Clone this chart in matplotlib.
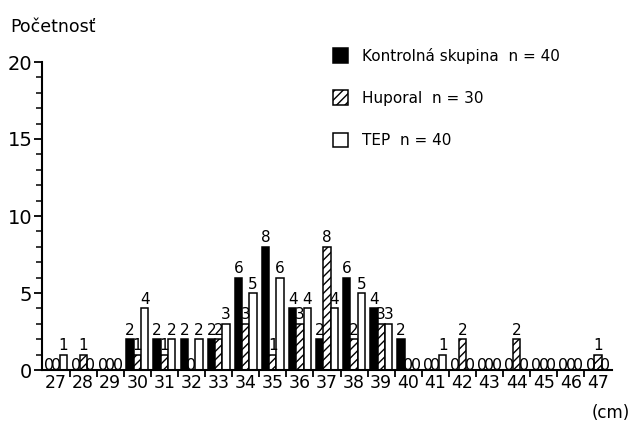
import matplotlib
matplotlib.use("Agg")
import matplotlib.pyplot as plt
import numpy as np
from matplotlib.patches import Patch

plt.rcParams['font.family'] = ['DejaVu Sans']
plt.rcParams['hatch.linewidth'] = 1.0

categories = [str(c) for c in range(27, 48)]
kontrolna = [0, 0, 0, 2, 2, 2, 2, 6, 8, 4, 2, 6, 4, 2, 0, 0, 0, 0, 0, 0, 0]
huporal   = [0, 1, 0, 1, 1, 0, 2, 3, 1, 3, 8, 2, 3, 0, 0, 2, 0, 2, 0, 0, 1]
tep       = [1, 0, 0, 4, 2, 2, 3, 5, 6, 4, 4, 5, 3, 0, 1, 0, 0, 0, 0, 0, 0]
series_labels = ["Kontrolná skupina  n = 40", "Huporal  n = 30", "TEP  n = 40"]
y_ticks = [0, 5, 10, 15, 20]

W, H = 632, 423
fig = plt.figure(figsize=(W / 100, H / 100), dpi=100)
ax = fig.add_axes([42 / W, (H - 370) / H, (612 - 42) / W, (370 - 62) / H])

x = np.arange(len(categories))
bw = 0.27
styles = [
    dict(color='black', edgecolor='black', hatch=None),
    dict(color='white', edgecolor='black', hatch='////'),
    dict(color='white', edgecolor='black', hatch=None),
]
data = [kontrolna, huporal, tep]
for k, (vals, st) in enumerate(zip(data, styles)):
    pos = x + (k - 1) * bw
    vals = np.array(vals)
    for p, v in zip(pos, vals):
        if v > 0:
            ax.bar(p, v, width=bw, facecolor=st['color'], edgecolor=st['edgecolor'],
                   hatch=st['hatch'], linewidth=1.1, zorder=2)
            ax.annotate(str(v), (p, v), xytext=(0, 1), textcoords='offset points',
                        ha='center', va='bottom', fontsize=11, zorder=5)
        else:
            ax.text(p, 0.02, "0", ha='center', va='baseline', fontsize=11.5, zorder=3)

ax.set_xlim(-0.52, len(categories) - 0.48)
ax.set_ylim(0, 20)

for s in ['top', 'right']:
    ax.spines[s].set_visible(False)
for s in ['left', 'bottom']:
    ax.spines[s].set_linewidth(1.5)

ax.set_yticks(y_ticks)
ax.set_yticklabels([str(t) for t in y_ticks], fontsize=14)
ax.set_yticks(np.arange(0, 21, 1), minor=True)
ax.tick_params(axis='y', which='major', length=6, width=1.3, direction='out', pad=1)
ax.tick_params(axis='y', which='minor', length=4, width=1.1, direction='out')

ax.set_xticks(x)
ax.set_xticklabels(categories, fontsize=12.5)
ax.set_xticks(x[:-1] + 0.5, minor=True)
ax.tick_params(axis='x', which='major', length=0, pad=3)
ax.tick_params(axis='x', which='minor', length=5, width=1.3, direction='out')

fig.text(10 / W, 1 - 32 / H, "Početnosť", fontsize=12.5, ha='left', va='baseline')
fig.text(630 / W, 1 - 418 / H, "(cm)", fontsize=12, ha='right', va='baseline')

handles = [Patch(facecolor=st['color'], edgecolor='black', hatch=st['hatch'], linewidth=1.1)
           for st in styles]
fig.legend(handles, series_labels, loc='upper left', bbox_to_anchor=(325 / W, 1 - 40 / H),
           frameon=False, fontsize=11, handlelength=1.0, handleheight=1.1,
           labelspacing=1.75, handletextpad=0.9, borderpad=0)

fig.savefig("out.png", dpi=100)
